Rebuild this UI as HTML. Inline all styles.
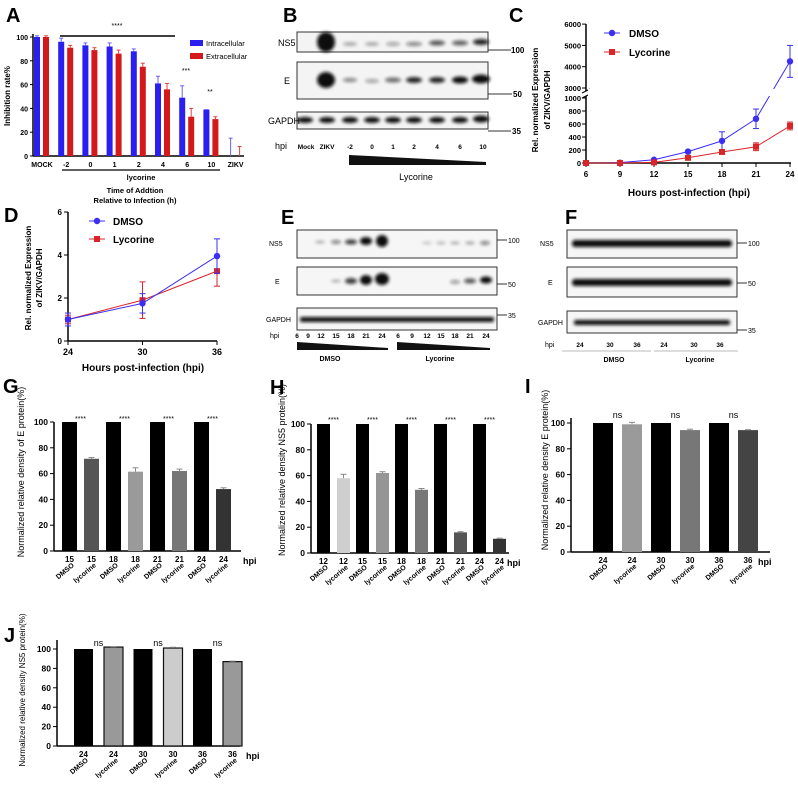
<!DOCTYPE html>
<html><head><meta charset="utf-8"><style>
body{margin:0;background:#fff}
svg{display:block;font-family:"Liberation Sans",Arial,sans-serif}
</style></head><body>
<svg id="fig" width="798" height="786" viewBox="0 0 798 786">
<defs><filter id="bl" x="-50%" y="-50%" width="200%" height="200%"><feGaussianBlur stdDeviation="1.6"/></filter></defs>
<g font-weight="bold" font-size="20">
<text x="6" y="22">A</text>
<text x="283" y="22">B</text>
<text x="509" y="22">C</text>
<text x="4" y="222">D</text>
<text x="281" y="224">E</text>
<text x="565" y="224">F</text>
<text x="3" y="393">G</text>
<text x="270" y="394">H</text>
<text x="525" y="393">I</text>
<text x="4" y="642">J</text>
</g>
<g id="blotB" font-size="8">
<rect x="297" y="32" width="191" height="20" fill="#f4f4f4" stroke="#333"/>
<rect x="297" y="62" width="191" height="37" fill="#f4f4f4" stroke="#333"/>
<rect x="297" y="112" width="191" height="17" fill="#f4f4f4" stroke="#333"/>
<g filter="url(#bl)" fill="#111">
<ellipse cx="326" cy="42" rx="9" ry="10"/>
<ellipse cx="350" cy="44" rx="7" ry="2" opacity=".3"/><ellipse cx="372" cy="44" rx="7" ry="2" opacity=".3"/><ellipse cx="393" cy="44" rx="7" ry="2" opacity=".35"/><ellipse cx="414" cy="44" rx="8" ry="2" opacity=".5"/><ellipse cx="437" cy="43" rx="8" ry="2.5" opacity=".7"/><ellipse cx="460" cy="43" rx="8" ry="2.5" opacity=".65"/><ellipse cx="481" cy="42" rx="8" ry="3" opacity=".9"/>
<ellipse cx="326" cy="80" rx="9" ry="8"/>
<ellipse cx="350" cy="80" rx="7" ry="2" opacity=".5"/><ellipse cx="372" cy="81" rx="7" ry="2" opacity=".35"/><ellipse cx="393" cy="80" rx="8" ry="2.5" opacity=".6"/><ellipse cx="414" cy="80" rx="8" ry="3" opacity=".9"/><ellipse cx="437" cy="80" rx="8" ry="3" opacity=".9"/><ellipse cx="460" cy="80" rx="8" ry="3.5"/><ellipse cx="481" cy="79" rx="9" ry="4.5"/>
<ellipse cx="305" cy="120" rx="8" ry="3"/><ellipse cx="327" cy="120" rx="8" ry="3"/><ellipse cx="350" cy="120" rx="8" ry="3"/><ellipse cx="372" cy="120" rx="8" ry="3"/><ellipse cx="393" cy="120" rx="8" ry="3"/><ellipse cx="414" cy="120" rx="8" ry="3"/><ellipse cx="437" cy="120" rx="8" ry="3"/><ellipse cx="460" cy="120" rx="8" ry="3"/><ellipse cx="481" cy="119" rx="8" ry="3.5"/>
</g>
<text x="278" y="46" font-size="9">NS5</text><text x="284" y="84" font-size="9">E</text><text x="268" y="124" font-size="9">GAPDH</text><text x="275" y="149" font-size="9">hpi</text>
<line x1="488" y1="50" x2="511" y2="50" stroke="#333"/><text x="511" y="53" font-weight="bold">100</text>
<line x1="488" y1="94" x2="512" y2="94" stroke="#333"/><text x="513" y="97" font-weight="bold">50</text>
<line x1="488" y1="131" x2="511" y2="131" stroke="#333"/><text x="512" y="134" font-weight="bold">35</text>
<g font-size="6.5" font-weight="bold" text-anchor="middle"><text x="306" y="149">Mock</text><text x="327" y="149">ZIKV</text><text x="350" y="149">-2</text><text x="372" y="149">0</text><text x="393" y="149">1</text><text x="414" y="149">2</text><text x="437" y="149">4</text><text x="460" y="149">6</text><text x="483" y="149">10</text></g>
<polygon points="349,155 486,162 486,165 349,165" fill="#111"/>
<text x="416" y="180" font-size="9" text-anchor="middle">Lycorine</text>
</g>
<g font-size="7">
<rect x="297" y="230" width="200" height="28" fill="#f6f6f6" stroke="#333"/>
<rect x="297" y="267" width="200" height="28" fill="#f6f6f6" stroke="#333"/>
<rect x="297" y="308" width="200" height="22" fill="#f6f6f6" stroke="#333"/>
<g filter="url(#bl)" fill="#111">
<ellipse cx="320" cy="242" rx="5" ry="1.5" opacity=".3"/><ellipse cx="336" cy="242" rx="5" ry="2" opacity=".5"/><ellipse cx="351" cy="242" rx="6" ry="2.5" opacity=".8"/><ellipse cx="366" cy="241" rx="6" ry="4"/><ellipse cx="382" cy="241" rx="6" ry="6"/>
<ellipse cx="427" cy="243" rx="5" ry="1.5" opacity=".2"/><ellipse cx="441" cy="243" rx="5" ry="1.5" opacity=".25"/><ellipse cx="455" cy="243" rx="5" ry="1.5" opacity=".3"/><ellipse cx="470" cy="243" rx="5" ry="1.5" opacity=".35"/><ellipse cx="485" cy="243" rx="5" ry="2" opacity=".5"/>
<ellipse cx="336" cy="281" rx="5" ry="1.5" opacity=".3"/><ellipse cx="351" cy="281" rx="6" ry="3" opacity=".8"/><ellipse cx="366" cy="280" rx="6" ry="5"/><ellipse cx="382" cy="279" rx="7" ry="6"/>
<ellipse cx="455" cy="282" rx="5" ry="2" opacity=".4"/><ellipse cx="470" cy="281" rx="6" ry="2.5" opacity=".7"/><ellipse cx="486" cy="280" rx="6" ry="3.5"/>
</g>
<g fill="#111" filter="url(#bl)"><rect x="300" y="317" width="194" height="5" rx="2"/></g>
<text x="269" y="246">NS5</text><text x="275" y="284">E</text><text x="266" y="322">GAPDH</text><text x="270" y="338">hpi</text>
<line x1="497" y1="240" x2="507" y2="240" stroke="#333"/><text x="508" y="243">100</text>
<line x1="497" y1="284" x2="507" y2="284" stroke="#333"/><text x="508" y="287">50</text>
<line x1="497" y1="315" x2="507" y2="315" stroke="#333"/><text x="508" y="318">35</text>
<g text-anchor="middle" font-weight="bold" font-size="6.5"><text x="297" y="338">6</text><text x="308" y="338">9</text><text x="321" y="338">12</text><text x="336" y="338">15</text><text x="351" y="338">18</text><text x="366" y="338">21</text><text x="382" y="338">24</text><text x="398" y="338">6</text><text x="412" y="338">9</text><text x="427" y="338">12</text><text x="441" y="338">15</text><text x="455" y="338">18</text><text x="470" y="338">21</text><text x="486" y="338">24</text></g>
<polygon points="297,342 388,348 388,350 297,350" fill="#111"/><polygon points="397,342 490,348 490,350 397,350" fill="#111"/>
<text x="330" y="361" font-weight="bold" text-anchor="middle">DMSO</text><text x="440" y="361" font-weight="bold" text-anchor="middle">Lycorine</text>
</g>
<g font-size="7">
<rect x="567" y="230" width="170" height="28" fill="#f6f6f6" stroke="#333"/>
<rect x="567" y="267" width="170" height="30" fill="#f6f6f6" stroke="#333"/>
<rect x="567" y="311" width="170" height="22" fill="#f6f6f6" stroke="#333"/>
<g filter="url(#bl)" fill="#111">
<rect x="572" y="240" width="160" height="7" rx="3"/><rect x="572" y="279" width="160" height="7" rx="3"/><rect x="574" y="320" width="156" height="5" rx="2"/>
</g>
<text x="540" y="246">NS5</text><text x="548" y="285">E</text><text x="538" y="325">GAPDH</text><text x="545" y="347">hpi</text>
<line x1="737" y1="243" x2="747" y2="243" stroke="#333"/><text x="748" y="246">100</text>
<line x1="737" y1="283" x2="747" y2="283" stroke="#333"/><text x="748" y="286">50</text>
<line x1="737" y1="330" x2="747" y2="330" stroke="#333"/><text x="748" y="333">35</text>
<g text-anchor="middle" font-weight="bold" font-size="6.5"><text x="580" y="347">24</text><text x="610" y="347">30</text><text x="637" y="347">36</text><text x="664" y="347">24</text><text x="694" y="347">30</text><text x="720" y="347">36</text></g>
<line x1="562" y1="351" x2="651" y2="351" stroke="#bbb"/><line x1="654" y1="351" x2="738" y2="351" stroke="#bbb"/>
<text x="614" y="362" font-weight="bold" text-anchor="middle">DMSO</text><text x="700" y="362" font-weight="bold" text-anchor="middle">Lycorine</text>
</g>
<g id="charts"></g>
</svg>
<script>
// Panel A data
const aCats = ['MOCK','-2','0','1','2','4','6','10','ZIKV'];
const aIntra = [100,96,93,92,88,61,49,39,0];
const aIntraErr = [1,3,2,3,2,6,10,0,15];
const aExtra = [100,91,89,86,75,56,33,31,0];
const aExtraErr = [1,2,2,3,3,5,7,2,8];
const aTicks = [0,20,40,60,80,100];
// Panel C data
const cX = [6,9,12,15,18,21,24];
const cDmso = [0,5,50,175,340,680,4250];
const cDmsoErr = [0,5,10,20,140,150,750];
const cLyc = [0,0,10,80,170,250,570];
const cLycErr = [0,0,5,15,30,60,60];
const cTicks = [0,200,400,600,800,1000,3000,4000,5000,6000];
// Panel D data
const dX = [24,30,36];
const dDmso = [1.0,1.75,3.95];
const dDmsoErr = [0.3,0.45,0.8];
const dLyc = [1.0,1.9,3.25];
const dLycErr = [0.2,0.85,0.7];
const dTicks = [0,2,4,6];
// Panel G data
const gCats = ['15','15','18','18','21','21','24','24'];
const gVals = [100,71.5,100,61.5,100,62,100,48];
const gErr = [0,1,0,3,0,1.5,0,1];
// Panel H data
const hCats = ['12','12','15','15','18','18','21','21','24','24'];
const hVals = [100,58,100,62,100,49,100,16,100,11];
const hErr = [0,3,0,1,0,1,0,0.5,0,0.5];
// Panel I data
const iCats = ['24','24','30','30','36','36'];
const iVals = [100,99,100,94.5,100,94.5];
const iErr = [0,1.5,0,0.7,0,0.3];
// Panel J data
const jCats = ['24','24','30','30','36','36'];
const jVals = [100,102,100,101,100,87];
const jErr = [0,0.4,0,0.8,0,0.5];
const barTicks = [0,20,40,60,80,100];

const NS='http://www.w3.org/2000/svg';
const root=document.getElementById('charts');
function mk(tag,attrs,parent,txt){const e=document.createElementNS(NS,tag);for(const k in attrs)e.setAttribute(k,attrs[k]);if(txt!==undefined)e.textContent=txt;(parent||root).appendChild(e);return e;}
function nm(el,name,inter){


return el;}
function errBar(g,x,y1,y2,col,w){mk('line',{x1:x,y1:y1,x2:x,y2:y2,stroke:col,'stroke-width':1},g);mk('line',{x1:x-w,y1:y2,x2:x+w,y2:y2,stroke:col,'stroke-width':1},g);}

// ---------- Panel A ----------
(function(){
const g=mk('g',{});nm(g,'panel-a-chart');
const x0=33,yb=156,yt=37;
const ay=v=>yb-(v/100)*(yb-yt);
const ax=i=>42+i*24.2;
mk('line',{x1:x0,y1:yt-3,x2:x0,y2:yb,stroke:'#000','stroke-width':1.5},g);
mk('line',{x1:x0,y1:yb,x2:244,y2:yb,stroke:'#000','stroke-width':1.5},g);
aTicks.forEach(t=>{mk('line',{x1:x0-3,y1:ay(t),x2:x0,y2:ay(t),stroke:'#000'},g);
const tl=mk('text',{x:x0-5,y:ay(t)+3,'font-size':7,'text-anchor':'end','font-weight':'bold'},g,t);nm(tl,'y-tick-label');});
aCats.forEach((c,i)=>{
const cx=ax(i);
const b1=mk('rect',{x:cx-8,y:ay(aIntra[i]),width:6,height:yb-ay(aIntra[i]),fill:'#2a1ff0'},g);nm(b1,'bar-intracellular');
errBar(g,cx-5,ay(aIntra[i]),ay(aIntra[i]+aIntraErr[i]),'#6a60ff',2);
const b2=mk('rect',{x:cx+1,y:ay(aExtra[i]),width:6,height:yb-ay(aExtra[i]),fill:'#d4191c'},g);nm(b2,'bar-extracellular');
errBar(g,cx+4,ay(aExtra[i]),ay(aExtra[i]+aExtraErr[i]),'#e04040',2);
const tl=mk('text',{x:cx,y:yb+11,'font-size':7,'text-anchor':'middle','font-weight':'bold'},g,c);nm(tl,'x-tick-label');
});
const ylab=mk('text',{transform:'translate(10,96) rotate(-90)','font-size':8,'text-anchor':'middle','font-weight':'bold'},g,'Inhibition rate%');nm(ylab,'y-axis-title');
mk('line',{x1:60,y1:36,x2:175,y2:36,stroke:'#000','stroke-width':1.5},g);
const s1=mk('text',{x:117,y:28,'font-size':7,'text-anchor':'middle'},g,'****');nm(s1,'significance-label');
const s2=mk('text',{x:186,y:73,'font-size':7,'text-anchor':'middle'},g,'***');nm(s2,'significance-label');
const s3=mk('text',{x:210,y:94,'font-size':7,'text-anchor':'middle'},g,'**');nm(s3,'significance-label');
mk('line',{x1:62,y1:170,x2:220,y2:170,stroke:'#000','stroke-width':1.2},g);
const ll=mk('text',{x:141,y:180,'font-size':7.5,'text-anchor':'middle','font-weight':'bold'},g,'lycorine');nm(ll,'lycorine-group-label');
const xt1=mk('text',{x:135,y:193,'font-size':7.5,'text-anchor':'middle','font-weight':'bold'},g,'Time of Addtion');nm(xt1,'x-axis-title');
const xt2=mk('text',{x:135,y:203,'font-size':7.5,'text-anchor':'middle','font-weight':'bold'},g,'Relative to Infection (h)');nm(xt2,'x-axis-subtitle');
const l1=mk('rect',{x:190,y:40,width:13,height:6,fill:'#2a1ff0'},g);nm(l1,'legend-swatch-intracellular');
const lt1=mk('text',{x:206,y:46,'font-size':7.5},g,'Intracellular');nm(lt1,'legend-entry-intracellular');
const l2=mk('rect',{x:190,y:53,width:13,height:6,fill:'#d4191c'},g);nm(l2,'legend-swatch-extracellular');
const lt2=mk('text',{x:206,y:59,'font-size':7.5},g,'Extracellular');nm(lt2,'legend-entry-extracellular');
})();

// ---------- Panel C ----------
(function(){
const g=mk('g',{});nm(g,'panel-c-chart');
const x0=586;
const cy=v=>v<=1000?163-v*0.065:88-(v-3000)*0.0213;
const cx=h=>x0+(h-6)/18*204;
mk('line',{x1:x0,y1:24,x2:x0,y2:91,stroke:'#000','stroke-width':1.5},g);
mk('line',{x1:x0,y1:96,x2:x0,y2:163,stroke:'#000','stroke-width':1.5},g);
mk('line',{x1:x0-4,y1:93,x2:x0+4,y2:89,stroke:'#000'},g);
mk('line',{x1:x0-4,y1:98,x2:x0+4,y2:94,stroke:'#000'},g);
mk('line',{x1:x0,y1:163,x2:791,y2:163,stroke:'#000','stroke-width':1.5},g);
cTicks.forEach(t=>{mk('line',{x1:x0-4,y1:cy(t),x2:x0,y2:cy(t),stroke:'#000'},g);
const tl=mk('text',{x:x0-5,y:cy(t)+3,'font-size':7.5,'text-anchor':'end','font-weight':'bold'},g,t);nm(tl,'y-tick-label');});
cX.forEach(h=>{mk('line',{x1:cx(h),y1:163,x2:cx(h),y2:167,stroke:'#000'},g);
const tl=mk('text',{x:cx(h),y:177,'font-size':8,'text-anchor':'middle','font-weight':'bold'},g,h);nm(tl,'x-tick-label');});
function series(vals,errs,col,sq,name){
const pts=vals.map((v,i)=>cx(cX[i])+','+cy(v)).join(' ');
const pl=mk('polyline',{points:pts,fill:'none',stroke:col,'stroke-width':1},g);nm(pl,'line-'+name);
vals.forEach((v,i)=>{const X=cx(cX[i]);
if(errs[i]>0){mk('line',{x1:X,y1:cy(v-errs[i]),x2:X,y2:cy(v+errs[i]),stroke:col,'stroke-width':1},g);
mk('line',{x1:X-3,y1:cy(v+errs[i]),x2:X+3,y2:cy(v+errs[i]),stroke:col},g);mk('line',{x1:X-3,y1:cy(v-errs[i]),x2:X+3,y2:cy(v-errs[i]),stroke:col},g);}
const m=sq?mk('rect',{x:X-3,y:cy(v)-3,width:6,height:6,fill:col},g):mk('circle',{cx:X,cy:cy(v),r:3.2,fill:col},g);nm(m,'point-'+name);});}
series(cDmso,cDmsoErr,'#3b2ff5',false,'dmso');
series(cLyc,cLycErr,'#d9252a',true,'lycorine');
mk('rect',{x:x0+2,y:89,width:210,height:7,fill:'#fff'},g);
const lm1=mk('line',{x1:604,y1:33,x2:620,y2:33,stroke:'#3b2ff5'},g);nm(lm1,'legend-line-dmso');
mk('circle',{cx:612,cy:33,r:3.2,fill:'#3b2ff5'},g);
const lt1=mk('text',{x:629,y:37,'font-size':10,'font-weight':'bold'},g,'DMSO');nm(lt1,'legend-entry-dmso');
mk('line',{x1:604,y1:52,x2:620,y2:52,stroke:'#d9252a'},g);
mk('rect',{x:609,y:49,width:6,height:6,fill:'#d9252a'},g);
const lt2=mk('text',{x:629,y:56,'font-size':10,'font-weight':'bold'},g,'Lycorine');nm(lt2,'legend-entry-lycorine');
const y1=mk('text',{transform:'translate(538,100) rotate(-90)','font-size':8,'text-anchor':'middle','font-weight':'bold'},g,'Rel. normalized Expression');nm(y1,'y-axis-title');
const y2=mk('text',{transform:'translate(550,100) rotate(-90)','font-size':8,'text-anchor':'middle','font-weight':'bold'},g,'of ZIKV/GAPDH');nm(y2,'y-axis-subtitle');
const xt=mk('text',{x:689,y:196,'font-size':10,'text-anchor':'middle','font-weight':'bold'},g,'Hours post-infection (hpi)');nm(xt,'x-axis-title');
})();

// ---------- Panel D ----------
(function(){
const g=mk('g',{});nm(g,'panel-d-chart');
const x0=68;
const dy=v=>341-v*21.5;
const dx=h=>x0+(h-24)/12*149;
mk('line',{x1:x0,y1:dy(6),x2:x0,y2:341,stroke:'#000','stroke-width':1.5},g);
mk('line',{x1:x0,y1:341,x2:217,y2:341,stroke:'#000','stroke-width':1.5},g);
dTicks.forEach(t=>{mk('line',{x1:x0-4,y1:dy(t),x2:x0,y2:dy(t),stroke:'#000'},g);
const tl=mk('text',{x:x0-6,y:dy(t)+3,'font-size':8,'text-anchor':'end','font-weight':'bold'},g,t);nm(tl,'y-tick-label');});
dX.forEach(h=>{mk('line',{x1:dx(h),y1:341,x2:dx(h),y2:345,stroke:'#000'},g);
const tl=mk('text',{x:dx(h),y:355,'font-size':9,'text-anchor':'middle','font-weight':'bold'},g,h);nm(tl,'x-tick-label');});
function series(vals,errs,col,sq,name){
const pl=mk('polyline',{points:vals.map((v,i)=>dx(dX[i])+','+dy(v)).join(' '),fill:'none',stroke:col,'stroke-width':1},g);nm(pl,'line-'+name);
vals.forEach((v,i)=>{const X=dx(dX[i]);
mk('line',{x1:X,y1:dy(v-errs[i]),x2:X,y2:dy(v+errs[i]),stroke:col},g);
mk('line',{x1:X-3,y1:dy(v+errs[i]),x2:X+3,y2:dy(v+errs[i]),stroke:col},g);mk('line',{x1:X-3,y1:dy(v-errs[i]),x2:X+3,y2:dy(v-errs[i]),stroke:col},g);
const m=sq?mk('rect',{x:X-3,y:dy(v)-3,width:6,height:6,fill:col},g):mk('circle',{cx:X,cy:dy(v),r:3.2,fill:col},g);nm(m,'point-'+name);});}
series(dLyc,dLycErr,'#d9252a',true,'lycorine');
series(dDmso,dDmsoErr,'#3b2ff5',false,'dmso');
mk('line',{x1:89,y1:221,x2:105,y2:221,stroke:'#3b2ff5'},g);mk('circle',{cx:97,cy:221,r:3.2,fill:'#3b2ff5'},g);
const lt1=mk('text',{x:113,y:225,'font-size':10,'font-weight':'bold'},g,'DMSO');nm(lt1,'legend-entry-dmso');
mk('line',{x1:89,y1:239,x2:105,y2:239,stroke:'#d9252a'},g);mk('rect',{x:94,y:236,width:6,height:6,fill:'#d9252a'},g);
const lt2=mk('text',{x:113,y:243,'font-size':10,'font-weight':'bold'},g,'Lycorine');nm(lt2,'legend-entry-lycorine');
const y1=mk('text',{transform:'translate(31,278) rotate(-90)','font-size':8,'text-anchor':'middle','font-weight':'bold'},g,'Rel. normalized Expression');nm(y1,'y-axis-title');
const y2=mk('text',{transform:'translate(42,278) rotate(-90)','font-size':8,'text-anchor':'middle','font-weight':'bold'},g,'of ZIKV/GAPDH');nm(y2,'y-axis-subtitle');
const xt=mk('text',{x:143,y:371,'font-size':10,'text-anchor':'middle','font-weight':'bold'},g,'Hours post-infection (hpi)');nm(xt,'x-axis-title');
})();

// ---------- Bar charts G/H/I/J ----------
function barChart(o){
const g=mk('g',{});nm(g,o.name);
const by=v=>o.y0-(v/100)*(o.y0-o.y100);
mk('line',{x1:o.ax,y1:o.top,x2:o.ax,y2:o.y0,stroke:'#000','stroke-width':1.5},g);
mk('line',{x1:o.ax,y1:o.y0,x2:o.axEnd,y2:o.y0,stroke:'#000','stroke-width':1.5},g);
barTicks.forEach(t=>{mk('line',{x1:o.ax-4,y1:by(t),x2:o.ax,y2:by(t),stroke:'#000'},g);
const tl=mk('text',{x:o.ax-6,y:by(t)+3,'font-size':8.5,'text-anchor':'end','font-weight':'bold'},g,t);nm(tl,'y-tick-label');});
o.cats.forEach((c,i)=>{
const pair=Math.floor(i/2),k=i%2;
const x=o.x0+pair*o.pstep+k*o.inner;
const v=o.vals[i];
const col=k===0?'#000':o.cols[pair];
const r=mk('rect',{x:x,y:by(v),width:o.bw,height:o.y0-by(v),fill:col,stroke:o.stroke&&k?'#111':'none','stroke-width':o.stroke?1.2:0},g);


if(o.errs[i]>0)errBar(g,x+o.bw/2,by(v),by(v+o.errs[i]),k?'#888':'#000',3);
const cx=x+o.bw/2;
const tl=mk('text',{x:cx,y:o.y0+11,'font-size':8,'text-anchor':'middle','font-weight':'bold'},g,c);nm(tl,'x-tick-label');
const rl=mk('text',{transform:'translate('+(cx+5)+','+(o.y0+15)+') rotate(-40)','font-size':7,'text-anchor':'end','font-weight':'bold'},g,k?'lycorine':'DMSO');nm(rl,'x-group-label');
if(k===0){const s=mk('text',{x:cx+o.inner/2,y:o.sigY,'font-size':o.sig==='ns'?9:7,'text-anchor':'middle'},g,o.sig);nm(s,'significance-label');}
});
const hp=mk('text',{x:o.hpiX,y:o.y0+13,'font-size':9,'font-weight':'bold'},g,'hpi');nm(hp,'hpi-label');
const yl=mk('text',{transform:'translate('+o.ylx+','+o.yly+') rotate(-90)','font-size':o.yfs,'text-anchor':'middle'},g,o.ylab);nm(yl,'y-axis-title');
}
barChart({name:'panel-g-chart',cats:gCats,vals:gVals,errs:gErr,ax:54,axEnd:241,hpiX:243,top:422,y0:551,y100:422,x0:62,pstep:44,inner:22,bw:15,cols:['#555','#9a9a9a','#777','#333'],sig:'****',sigY:421,ylx:24,yly:472,yfs:9,ylab:'Normalized relative density of E protein(%)'});
barChart({name:'panel-h-chart',cats:hCats,vals:hVals,errs:hErr,ax:311,axEnd:509,hpiX:507,top:424,y0:553,y100:424,x0:317,pstep:39,inner:20,bw:13,cols:['#cfcfcf','#959595','#777','#555','#333'],sig:'****',sigY:422,ylx:285,yly:470,yfs:9,ylab:'Normalized relative density NS5 protein(%)'});
barChart({name:'panel-i-chart',cats:iCats,vals:iVals,errs:iErr,ax:571,axEnd:770,hpiX:758,top:418,y0:552,y100:423,x0:593,pstep:58,inner:29,bw:20,cols:['#9a9a9a','#777','#444'],sig:'ns',sigY:418,ylx:548,yly:470,yfs:9,ylab:'Normalized relative density E protein(%)'});
barChart({name:'panel-j-chart',cats:jCats,vals:jVals,errs:jErr,ax:57,axEnd:240,hpiX:246,top:640,y0:746,y100:649,x0:74,pstep:59.5,inner:30,bw:19,stroke:true,cols:['#999','#ccc','#999'],sig:'ns',sigY:646,ylx:25,yly:690,yfs:8,ylab:'Normalized relative density NS5 protein(%)'});
</script>
</body></html>
